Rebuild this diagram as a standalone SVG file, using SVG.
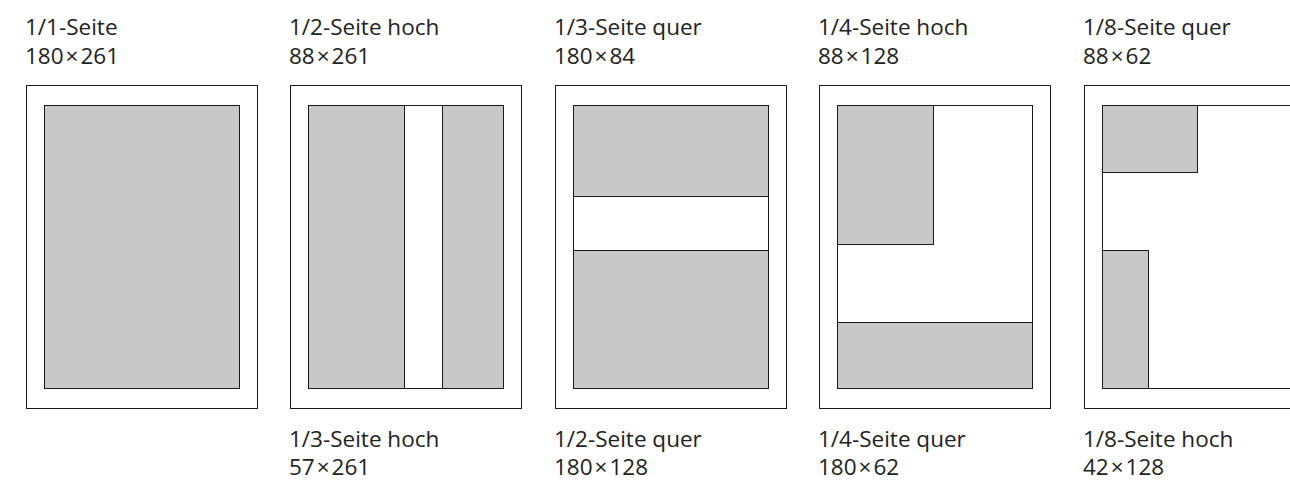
<svg xmlns="http://www.w3.org/2000/svg" width="1290" height="482" viewBox="0 0 1290 482">
<style>
.page{fill:#fff;stroke:#1a1a1a;stroke-width:1}
.area{fill:#fff;stroke:#1a1a1a;stroke-width:1}
.ad{fill:#c8c8c8;stroke:#1a1a1a;stroke-width:1}
.lbl{font-family:"Open Sans","Liberation Sans",sans-serif;font-size:22.5px;fill:#222}
</style>
<rect width="1290" height="482" fill="#fff"/>
<g id="p1">
<rect class="page" x="26.5" y="85.5" width="231" height="323"/>
<rect class="ad" x="44.5" y="105.5" width="195" height="283"/>
<text class="lbl" x="25" y="35">1/1-Seite</text>
<text class="lbl" x="25" y="64">180<tspan dx="2">×</tspan><tspan dx="2">261</tspan></text>
</g>
<g id="p2">
<rect class="page" x="290.5" y="85.5" width="231" height="323"/>
<rect class="area" x="308.5" y="105.5" width="195" height="283"/>
<rect class="ad" x="308.5" y="105.5" width="96" height="283"/>
<rect class="ad" x="442.5" y="105.5" width="61" height="283"/>
<text class="lbl" x="289" y="35">1/2-Seite hoch</text>
<text class="lbl" x="289" y="64">88<tspan dx="2">×</tspan><tspan dx="2">261</tspan></text>
<text class="lbl" x="289" y="447">1/3-Seite hoch</text>
<text class="lbl" x="289" y="475">57<tspan dx="2">×</tspan><tspan dx="2">261</tspan></text>
</g>
<g id="p3">
<rect class="page" x="555.5" y="85.5" width="231" height="323"/>
<rect class="area" x="573.5" y="105.5" width="195" height="283"/>
<rect class="ad" x="573.5" y="105.5" width="195" height="91"/>
<rect class="ad" x="573.5" y="250.5" width="195" height="138"/>
<text class="lbl" x="554" y="35">1/3-Seite quer</text>
<text class="lbl" x="554" y="64">180<tspan dx="2">×</tspan><tspan dx="2">84</tspan></text>
<text class="lbl" x="554" y="447">1/2-Seite quer</text>
<text class="lbl" x="554" y="475">180<tspan dx="2">×</tspan><tspan dx="2">128</tspan></text>
</g>
<g id="p4">
<rect class="page" x="819.5" y="85.5" width="231" height="323"/>
<rect class="area" x="837.5" y="105.5" width="195" height="283"/>
<rect class="ad" x="837.5" y="105.5" width="96" height="139"/>
<rect class="ad" x="837.5" y="322.5" width="195" height="66"/>
<text class="lbl" x="818" y="35">1/4-Seite hoch</text>
<text class="lbl" x="818" y="64">88<tspan dx="2">×</tspan><tspan dx="2">128</tspan></text>
<text class="lbl" x="818" y="447">1/4-Seite quer</text>
<text class="lbl" x="818" y="475">180<tspan dx="2">×</tspan><tspan dx="2">62</tspan></text>
</g>
<g id="p5">
<rect class="page" x="1084.5" y="85.5" width="231" height="323"/>
<rect class="area" x="1102.5" y="105.5" width="195" height="283"/>
<rect class="ad" x="1102.5" y="105.5" width="95" height="67"/>
<rect class="ad" x="1102.5" y="250.5" width="46" height="138"/>
<text class="lbl" x="1083" y="35">1/8-Seite quer</text>
<text class="lbl" x="1083" y="64">88<tspan dx="2">×</tspan><tspan dx="2">62</tspan></text>
<text class="lbl" x="1083" y="447">1/8-Seite hoch</text>
<text class="lbl" x="1083" y="475">42<tspan dx="2">×</tspan><tspan dx="2">128</tspan></text>
</g>
<g id="connectors"></g>
</svg>
